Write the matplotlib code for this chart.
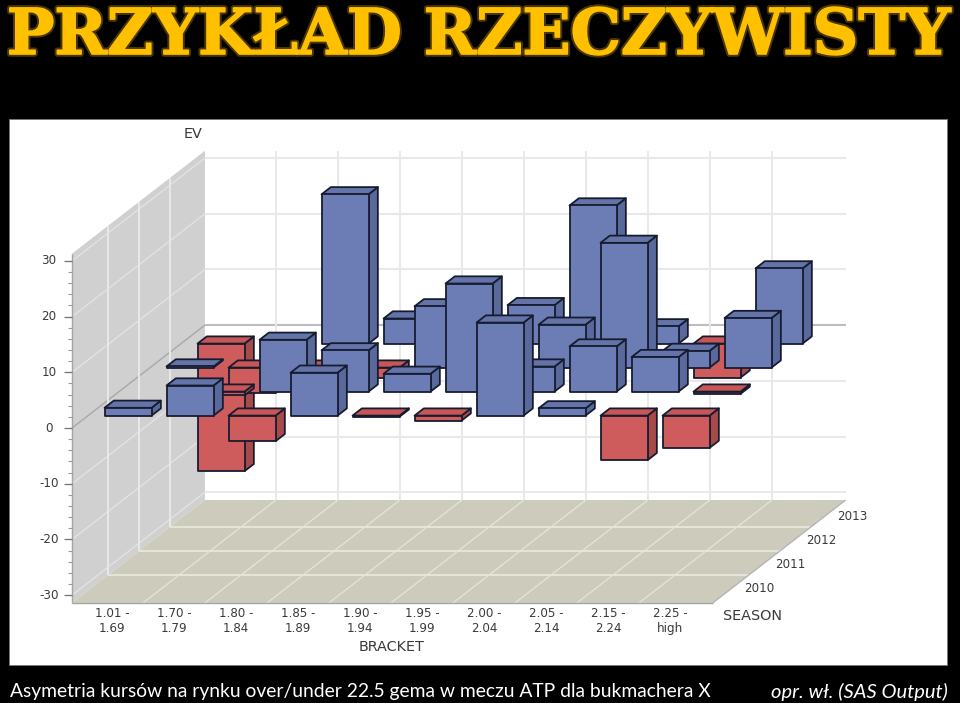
import numpy as np
import matplotlib
matplotlib.use("Agg")
import matplotlib.pyplot as plt
import matplotlib.patheffects as pe
from matplotlib.patches import Polygon, Rectangle

brackets = ["1.01 -\n1.69", "1.70 -\n1.79", "1.80 -\n1.84", "1.85 -\n1.89", "1.90 -\n1.94",
            "1.95 -\n1.99", "2.00 -\n2.04", "2.05 -\n2.14", "2.15 -\n2.24", "2.25 -\nhigh"]
seasons = ["2010", "2011", "2012", "2013"]
nan = float("nan")

ev_2010 = [1.4, 5.4, -4.6, 7.7, -0.2, -0.9, 16.7, 1.3, -8.0, -5.8]
ev_2011 = [nan, -0.7, 9.3, 7.4, 3.2, 19.4, 4.5, 8.1, 6.2, -0.4]
ev_2012 = [0.2, -4.5, -1.0, -1.8, 11.0, nan, 7.7, 22.4, 3.0, 8.9]
ev_2013 = [-22.9, nan, 26.8, 4.5, nan, 6.9, 24.8, 3.1, -6.1, 13.5]
ev_by_season = [ev_2010, ev_2011, ev_2012, ev_2013]

ev_ticks = [-30, -20, -10, 0, 10, 20, 30]
minor_ticks = list(range(-30, 31, 2))

V_MIN, V_MAX = -31.4, 31.3
I_MIN, I_MAX = -0.645, 9.69
D_MIN, D_MAX = -0.667, 3.62
HALF_W, HALF_D = 0.379, 0.15


def proj(i, d, v):
    # oblique projection: bracket, season depth, EV -> picture position
    return 132.7 + 62 * i + 31 * d, 412 - 5.57 * v - 24 * d


fig = plt.figure(figsize=(9.6, 7.03), dpi=100, facecolor="black")
ax = fig.add_axes([0, 0, 1, 1])
ax.set_xlim(0, 960)
ax.set_ylim(703, 0)
ax.axis("off")

ax.add_patch(Rectangle((9, 119), 938, 546, fc="white", ec="#777777", lw=0.6, zorder=0))


def seg(p0, p1, color, lw=1.4, z=2):
    ax.plot([p0[0], p1[0]], [p0[1], p1[1]], color=color, lw=lw, zorder=z, solid_capstyle="butt")


# walls and floor
ax.add_patch(Polygon([proj(I_MIN, D_MIN, V_MIN), proj(I_MIN, D_MAX, V_MIN),
                      proj(I_MIN, D_MAX, V_MAX), proj(I_MIN, D_MIN, V_MAX)],
                     fc="#D0D0D0", ec="none", zorder=1))
ax.add_patch(Polygon([proj(I_MIN, D_MIN, V_MIN), proj(I_MAX, D_MIN, V_MIN),
                      proj(I_MAX, D_MAX, V_MIN), proj(I_MIN, D_MAX, V_MIN)],
                     fc="#CDCBBB", ec="none", zorder=1))

for v in ev_ticks:
    c_side = "#A8A8A8" if v == 0 else "#E2E2E2"
    c_back = "#BDBDBD" if v == 0 else "#E9E9E9"
    seg(proj(I_MIN, D_MIN, v), proj(I_MIN, D_MAX, v), c_side, 1.0)
    seg(proj(I_MIN, D_MAX, v), proj(I_MAX, D_MAX, v), c_back, 1.5)

for s in range(3):
    seg(proj(I_MIN, s + 0.5, V_MIN), proj(I_MIN, s + 0.5, V_MAX), "#E8E8E8", 1.4)
    seg(proj(I_MIN, s + 0.5, V_MIN), proj(I_MAX, s + 0.5, V_MIN), "#E6E5DA", 1.4)

for b in range(9):
    seg(proj(b + 0.5, D_MIN, V_MIN), proj(b + 0.5, D_MAX, V_MIN), "#E6E5DA", 0.9)
    seg(proj(b + 0.5, D_MAX, V_MIN), proj(b + 0.5, D_MAX, V_MAX), "#E9E9E9", 1.5)

seg(proj(I_MIN, D_MIN, V_MIN), proj(I_MAX, D_MIN, V_MIN), "#A5A5A5", 1.0)
seg(proj(I_MAX, D_MIN, V_MIN), proj(I_MAX, D_MAX, V_MIN), "#B5B5B5", 1.0)
seg(proj(I_MIN, D_MIN, V_MIN), proj(I_MIN, D_MIN, V_MAX), "#A5A5A5", 1.0)

# EV axis ticks
x_axis = proj(I_MIN, D_MIN, 0)[0]
label_kw = dict(family="DejaVu Sans", color="#3A3A3A", ha="center", va="center", fontsize=8.6)
for v in minor_ticks:
    y = proj(I_MIN, D_MIN, v)[1]
    seg((x_axis - 4, y), (x_axis, y), "#999999", 0.8)
for v in ev_ticks:
    y = proj(I_MIN, D_MIN, v)[1]
    seg((x_axis - 8, y), (x_axis, y), "#777777", 0.9)
    ax.text(x_axis - 23, y, str(v), **label_kw)

# bars, back row first so nearer ones cover them
blue = ("#6C7DB6", "#6474A9", "#5A699C")
red = ("#CF5C5C", "#C85656", "#A94A4A")
edge = "#161C30"
for s in range(3, -1, -1):
    for b, v in enumerate(ev_by_season[s]):
        if np.isnan(v):
            continue
        front, top, side = blue if v > 0 else red
        hi = max(v, 0)
        lo = min(v, 0)
        l, r = b - HALF_W, b + HALF_W
        d0, d1 = s - HALF_D, s + HALF_D
        kw = dict(ec=edge, lw=1.3, joinstyle="round", zorder=10 + (3 - s))
        ax.add_patch(Polygon([proj(r, d0, lo), proj(r, d1, lo), proj(r, d1, hi), proj(r, d0, hi)], fc=side, **kw))
        ax.add_patch(Polygon([proj(l, d0, hi), proj(r, d0, hi), proj(r, d1, hi), proj(l, d1, hi)], fc=top, **kw))
        ax.add_patch(Polygon([proj(l, d0, lo), proj(r, d0, lo), proj(r, d0, hi), proj(l, d0, hi)], fc=front, **kw))

# axis labels
for b, name in enumerate(brackets):
    x, y = proj(b, D_MIN, V_MIN)
    ax.text(x, y + 18, name, linespacing=1.2, **label_kw)
for s, name in enumerate(seasons):
    x, y = proj(I_MAX, s, V_MIN)
    ax.text(x + 26, y + 2, name, **label_kw)
ax.text(752, 616, "SEASON", **{**label_kw, "fontsize": 10.4})
ax.text(392, 647, "BRACKET", **{**label_kw, "fontsize": 10.4})
ax.text(193, 134, "EV", **{**label_kw, "fontsize": 10.4})

# slide title and captions
ax.text(479, 54, "PRZYKŁAD RZECZYWISTY", family="DejaVu Serif", weight="bold", fontsize=45.5,
        color="#FFC000", ha="center", va="baseline",
        path_effects=[pe.Stroke(linewidth=4, foreground="#4A3700"),
                      pe.Stroke(linewidth=1.2, foreground="#FFC000"), pe.Normal()])
ax.text(10, 692, "Asymetria kursów na rynku over/under 22.5 gema w meczu ATP dla bukmachera X",
        family="Lato", fontsize=13.85, color="white", ha="left", va="center")
ax.text(948, 692, "opr. wł. (SAS Output)", family="Lato", style="italic", fontsize=14.5,
        color="white", ha="right", va="center")

fig.savefig("out.png", dpi=100, facecolor="black")
